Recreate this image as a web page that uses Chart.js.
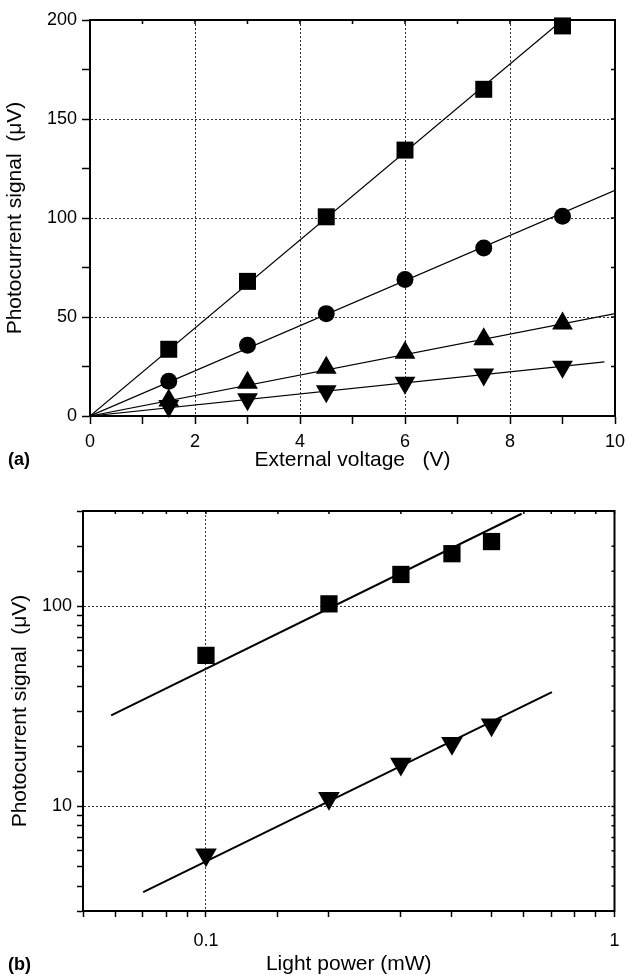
<!DOCTYPE html>
<html>
<head>
<meta charset="utf-8">
<script src="https://cdn.jsdelivr.net/npm/chart.js@4.4.1/dist/chart.umd.min.js"></script>
<style>
  html, body { margin: 0; padding: 0; background: #fff; }
  .panel { position: absolute; left: 0; }
</style>
</head>
<body>
<div class="panel" style="top:0"><canvas id="chartA" width="627" height="480"></canvas></div>
<div class="panel" style="top:480px"><canvas id="chartB" width="627" height="495"></canvas></div>
<script>
// (a) photocurrent signal vs external voltage
var voltage = [1.5, 3, 4.5, 6, 7.5, 9];
var squareA = [33.7, 68, 100.6, 134.3, 165, 197];
var circleA = [17.5, 35.7, 51.7, 68.9, 84.9, 100.9];
var triUpA = [7.8, 16.8, 24.4, 32, 38.8, 46.7];
var triDownA = [5, 8.5, 12.5, 16.8, 20.9, 24.9];
// fitted lines (start, end)
var fitSquareA = [[0, 0], [9.0, 200]];
var fitCircleA = [[0, 0], [10, 114]];
var fitTriUpA = [[0, 0], [10, 51.7]];
var fitTriDownA = [[0, 0], [9.8, 27.3]];
var xTicksA = [0, 2, 4, 6, 8, 10];
var yTicksA = [0, 50, 100, 150, 200];

// (b) photocurrent signal vs light power (log-log)
var power = [0.1, 0.2, 0.3, 0.4, 0.5];
var squareB = [56.9, 103, 144.5, 183.5, 211];
var triDownB = [5.73, 11.0, 16.3, 20.7, 25.6];
var fitSquareB = [[0.0586, 28.5], [0.5925, 290.6]];
var fitTriDownB = [[0.0702, 3.73], [0.7028, 37.3]];
var xTicksB = [0.1, 1];
var yTicksB = [10, 100];

Chart.defaults.font.family = "'Liberation Sans', Arial, Helvetica, sans-serif";
Chart.defaults.color = '#000';

function pts(xs, ys) {
    return xs.map(function (x, i) { return { x: x, y: ys[i] }; });
}
function linePts(pair) {
    return pair.map(function (p) { return { x: p[0], y: p[1] }; });
}
function inList(list, v) {
    return list.some(function (t) { return Math.abs(t - v) <= 1e-6 * Math.abs(t); });
}
function labelFrom(list) {
    return function (v) {
        for (var i = 0; i < list.length; i++) {
            if (Math.abs(list[i] - v) <= 1e-6 * Math.max(1, Math.abs(list[i]))) return String(list[i]);
        }
        return '';
    };
}
function gridFrom(list, min, max) {
    return function (c) {
        if (!c.tick) return 'rgba(0,0,0,0)';
        var v = c.tick.value;
        if (Math.abs(v - min) < 1e-9 || Math.abs(v - max) < 1e-9 * Math.max(1, max)) return 'rgba(0,0,0,0)';
        return inList(list.filter(function (t) { return t !== 0; }), v) || (v === 0 && list.indexOf(0) >= 0 && v !== min) ? '#333' : 'rgba(0,0,0,0)';
    };
}

function markers(xs, ys, style, radius, rotation) {
    return {
        data: pts(xs, ys),
        pointStyle: style,
        pointRadius: radius,
        pointHoverRadius: radius,
        pointRotation: rotation || 0,
        backgroundColor: '#000',
        borderColor: '#000',
        borderWidth: 0,
        showLine: false,
        clip: false
    };
}
function fitLine(pair, width) {
    return {
        data: linePts(pair),
        showLine: true,
        pointRadius: 0,
        borderColor: '#000',
        borderWidth: width,
        fill: false
    };
}

// frame on all four sides, small inward ticks top/right, panel letter
var framePlugin = {
    id: 'frame',
    beforeDatasetsDraw: function (chart, args, opts) {
        var a = chart.chartArea, ctx = chart.ctx;
        var xs = chart.scales.x, ys = chart.scales.y;
        ctx.save();
        ctx.strokeStyle = '#000';
        ctx.lineWidth = 2;
        ctx.strokeRect(a.left, a.top, a.right - a.left, a.bottom - a.top);
        ctx.lineWidth = 1.5;
        ctx.beginPath();
        xs.ticks.forEach(function (t) {
            var px = xs.getPixelForValue(t.value);
            ctx.moveTo(px, a.top);
            ctx.lineTo(px, a.top + opts.inner);
        });
        ys.ticks.forEach(function (t) {
            var py = ys.getPixelForValue(t.value);
            ctx.moveTo(a.right, py);
            ctx.lineTo(a.right - opts.inner, py);
        });
        ctx.stroke();
        ctx.restore();
    },
    afterDraw: function (chart, args, opts) {
        var ctx = chart.ctx;
        ctx.save();
        ctx.fillStyle = '#000';
        ctx.font = "bold 18px 'Liberation Sans', Arial, sans-serif";
        ctx.textBaseline = 'alphabetic';
        ctx.fillText(opts.label, opts.labelX, opts.labelY);
        ctx.restore();
    }
};

function axisTitle(text, pad) {
    return { display: true, text: text, font: { size: 21, lineHeight: 1 }, padding: pad };
}

new Chart('chartA', {
    type: 'scatter',
    data: {
        datasets: [
            markers(voltage, squareA, 'rect', 12),
            markers(voltage, circleA, 'circle', 8.5),
            markers(voltage, triUpA, 'triangle', 12),
            markers(voltage, triDownA, 'triangle', 12, 180),
            fitLine(fitSquareA, 1.2),
            fitLine(fitCircleA, 1.2),
            fitLine(fitTriUpA, 1.2),
            fitLine(fitTriDownA, 1.2)
        ]
    },
    options: {
        responsive: false,
        animation: false,
        devicePixelRatio: 1,
        layout: { padding: { top: 20, right: 9, left: 0, bottom: 0 } },
        plugins: {
            legend: { display: false },
            tooltip: { enabled: false },
            frame: { inner: 4, label: '(a)', labelX: 8, labelY: 465 }
        },
        scales: {
            x: {
                type: 'linear', min: 0, max: 10,
                ticks: { stepSize: 1, autoSkip: false, maxRotation: 0, padding: 7, font: { size: 18 }, callback: labelFrom(xTicksA) },
                grid: { color: gridFrom(xTicksA, 0, 10), tickColor: '#000', tickLength: 8, tickWidth: 1.5, lineWidth: 1 },
                border: { color: '#000', width: 2, dash: [2, 2] },
                title: axisTitle('External voltage   (V)', { top: 0, bottom: 9 }),
                afterFit: function (s) { s.height = 64; s.paddingLeft = 0; s.paddingRight = 0; }
            },
            y: {
                type: 'linear', min: 0, max: 200,
                ticks: { stepSize: 25, autoSkip: false, padding: 5, font: { size: 18 }, callback: labelFrom(yTicksA) },
                grid: { color: gridFrom(yTicksA, 0, 200), tickColor: '#000', tickLength: 8, tickWidth: 1.5, lineWidth: 1 },
                border: { color: '#000', width: 2, dash: [2, 2] },
                title: axisTitle('Photocurrent signal  (\u03bcV)', { top: 5, bottom: 0 }),
                afterFit: function (s) { s.width = 90; s.paddingTop = 0; s.paddingBottom = 0; }
            }
        }
    },
    plugins: [framePlugin]
});

new Chart('chartB', {
    type: 'scatter',
    data: {
        datasets: [
            markers(power, squareB, 'rect', 12.2),
            markers(power, triDownB, 'triangle', 12.5, 180),
            fitLine(fitSquareB, 2),
            fitLine(fitTriDownB, 2)
        ]
    },
    options: {
        responsive: false,
        animation: false,
        devicePixelRatio: 1,
        layout: { padding: { top: 31, right: 8, left: 0, bottom: 0 } },
        plugins: {
            legend: { display: false },
            tooltip: { enabled: false },
            frame: { inner: 3, label: '(b)', labelX: 8, labelY: 490 }
        },
        scales: {
            x: {
                type: 'logarithmic', min: 0.05, max: 1,
                ticks: { autoSkip: false, maxRotation: 0, padding: 13, font: { size: 18 }, callback: labelFrom(xTicksB) },
                grid: { color: gridFrom(xTicksB, 0.05, 1), tickColor: '#000', tickLength: 6, tickWidth: 1.5, lineWidth: 1 },
                border: { color: '#000', width: 2, dash: [2, 2] },
                title: axisTitle('Light power (mW)', { top: 0, bottom: 0 }),
                afterFit: function (s) { s.height = 64; s.paddingLeft = 0; s.paddingRight = 0; }
            },
            y: {
                type: 'logarithmic', min: 3, max: 300,
                ticks: { autoSkip: false, padding: 5, font: { size: 18 }, callback: labelFrom(yTicksB) },
                grid: { color: gridFrom(yTicksB, 3, 300), tickColor: '#000', tickLength: 6, tickWidth: 1.5, lineWidth: 1 },
                border: { color: '#000', width: 2, dash: [2, 2] },
                title: axisTitle('Photocurrent signal  (\u03bcV)', { top: 10, bottom: 0 }),
                afterFit: function (s) { s.width = 83; s.paddingTop = 0; s.paddingBottom = 0; }
            }
        }
    },
    plugins: [framePlugin]
});
</script>
</body>
</html>
